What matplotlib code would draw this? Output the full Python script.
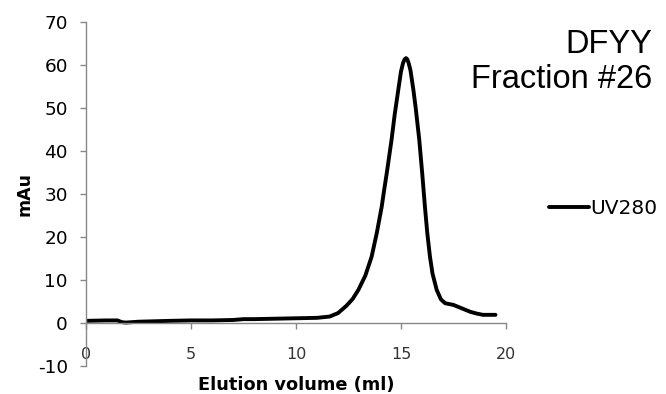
import matplotlib
matplotlib.use('Agg')
import matplotlib.pyplot as plt

plt.rcParams['axes.unicode_minus'] = False

# UV280 trace
volume_ml = [0, 0.5, 1.0, 1.5, 1.7, 1.9, 2.5, 4, 5, 6, 7, 7.5, 8, 9, 10, 11,
             11.6, 12.0, 12.4, 12.7, 12.97, 13.3, 13.6, 13.85, 14.08, 14.2,
             14.32, 14.4, 14.55, 14.7, 14.87, 15.0, 15.1, 15.17, 15.24, 15.3,
             15.36, 15.45, 15.52, 15.59, 15.7, 15.87, 16.01, 16.14, 16.25,
             16.38, 16.5, 16.7, 16.9, 17.1, 17.3, 17.5, 17.8, 18.1, 18.3,
             18.6, 18.9, 19.2, 19.5]
uv280_mau = [0.5, 0.55, 0.6, 0.6, 0.2, 0.1, 0.3, 0.5, 0.6, 0.6, 0.7, 0.9,
             0.9, 1.0, 1.1, 1.2, 1.5, 2.3, 4.0, 5.6, 7.7, 11.0, 15.4, 21.0,
             27.0, 31.0, 34.8, 37.5, 42.6, 48.5, 54.2, 58.5, 60.5, 61.3, 61.6,
             61.3, 60.5, 58.8, 56.5, 54.2, 50.0, 42.6, 34.8, 27.0, 21.0, 15.4,
             11.5, 7.7, 5.5, 4.6, 4.4, 4.2, 3.6, 3.0, 2.6, 2.2, 1.9, 1.9, 1.9]

x_ticks = [0, 5, 10, 15, 20]
y_ticks = [-10, 0, 10, 20, 30, 40, 50, 60, 70]

W, H = 666, 394
fig = plt.figure(figsize=(W / 100, H / 100), dpi=100)
ax = fig.add_axes([86 / W, 28 / H, 420 / W, 344 / H])

ax.plot(volume_ml, uv280_mau, color='black', lw=2.8, solid_joinstyle='round',
        solid_capstyle='round', label='UV280')

ax.set_xlim(0, 20)
ax.set_ylim(-10, 70)
ax.set_xticks(x_ticks)
ax.set_yticks(y_ticks)

grey = '#888888'
for s in ['top', 'right']:
    ax.spines[s].set_visible(False)
ax.spines['bottom'].set_position(('data', 0))
for s in ['left', 'bottom']:
    ax.spines[s].set_color(grey)
    ax.spines[s].set_linewidth(1)

ax.tick_params(axis='y', direction='out', length=4, width=1, color=grey,
               pad=9, labelsize=13.3)
ax.tick_params(axis='x', direction='out', length=4, width=1, color=grey,
               pad=13, labelsize=11.5, labelcolor='#333333')

ax.set_ylabel('mAu', fontsize=12.5, fontweight='bold')
ax.set_xlabel('Elution volume (ml)', fontsize=12.8, fontweight='bold')
ax.xaxis.set_label_coords(0.5, -0.028)
ax.yaxis.set_label_coords(-0.125, 0.5)

fig.text(652 / W, 1 - 62 / H, 'DFYY\nFraction #26', ha='right', va='center',
         fontsize=23.5, linespacing=1.2, family='Liberation Sans')

fig.legend(loc='center left', bbox_to_anchor=(541 / W, 1 - 209 / H),
           frameon=False, fontsize=14.5, handlelength=2.0,
           handletextpad=0.05, borderaxespad=0)

plt.savefig('out.png', dpi=100)
